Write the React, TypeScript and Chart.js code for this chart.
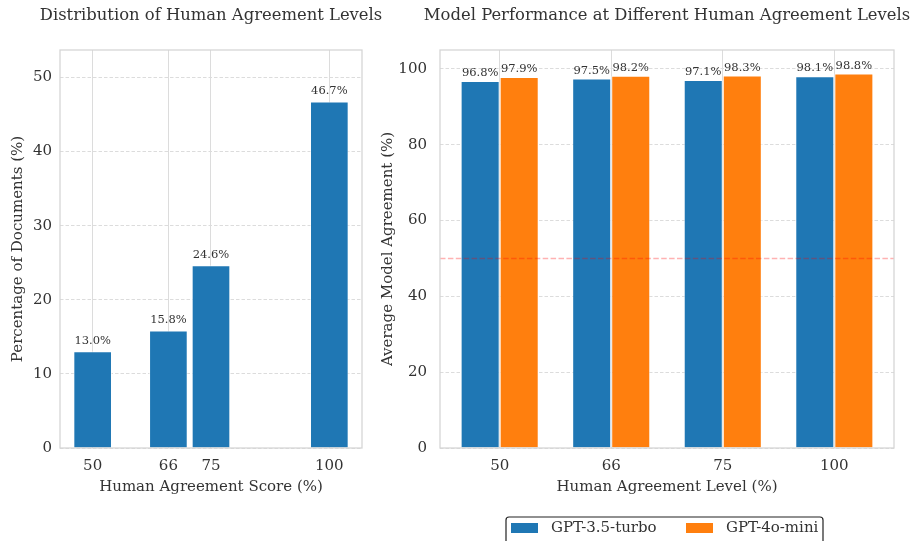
import React, { useEffect, useRef } from "react";
import { Chart, registerables } from "chart.js";

Chart.register(...registerables);

// ---- data ----
const scoreLevels = [50, 66, 75, 100];
const docPercentages = [13.0, 15.8, 24.6, 46.7];
const leftYTicks = [0, 10, 20, 30, 40, 50];

const agreementCategories = ["50", "66", "75", "100"];
const gpt35Values = [96.8, 97.5, 97.1, 98.1];
const gpt4oMiniValues = [97.9, 98.2, 98.3, 98.8];
const rightYTicks = [0, 20, 40, 60, 80, 100];
const seriesNames = ["GPT-3.5-turbo", "GPT-4o-mini"];
const referenceLine = 50;

const leftTitle = "Distribution of Human Agreement Levels";
const rightTitle = "Model Performance at Different Human Agreement Levels";

// ---- styles ----
const BLUE = "#1f77b4";
const ORANGE = "#ff7f0e";
const TEXT = "#333333";
const FAMILY = "'DejaVu Serif', serif";
const GRID = "#dcdcdc";
const FRAME = "#d4d4d4";
const TICK_SIZE = 15;
const LABEL_SIZE = 15;

function framePlugin(title: string, labelOffset: number, extra?: (chart: any) => void) {
  return {
    id: "custom-" + title.length,
    afterDatasetsDraw(chart: any) {
      const ctx = chart.ctx;
      const ca = chart.chartArea;
      if (extra) extra(chart);
      // value labels
      ctx.save();
      ctx.font = `11.5px ${FAMILY}`;
      ctx.fillStyle = TEXT;
      ctx.textAlign = "center";
      ctx.textBaseline = "bottom";
      chart.data.datasets.forEach((ds: any, di: number) => {
        const meta = chart.getDatasetMeta(di);
        meta.data.forEach((el: any, i: number) => {
          const raw = ds.data[i];
          const v = typeof raw === "number" ? raw : raw.y;
          ctx.fillText(v.toFixed(1) + "%", el.x, el.y - labelOffset);
        });
      });
      ctx.restore();
      // frame
      ctx.save();
      ctx.strokeStyle = FRAME;
      ctx.lineWidth = 1.25;
      ctx.strokeRect(ca.left, ca.top, ca.right - ca.left, ca.bottom - ca.top);
      ctx.restore();
      // title
      ctx.save();
      ctx.font = `16.4px ${FAMILY}`;
      ctx.fillStyle = TEXT;
      ctx.textAlign = "center";
      ctx.textBaseline = "middle";
      ctx.fillText(title, (ca.left + ca.right) / 2, 16);
      ctx.restore();
    },
  };
}

function LeftChart() {
  const ref = useRef<HTMLCanvasElement | null>(null);
  useEffect(() => {
    if (!ref.current) return;
    const chart = new Chart(ref.current, {
      type: "bar",
      data: {
        datasets: [
          {
            data: scoreLevels.map((x, i) => ({ x, y: docPercentages[i] })),
            backgroundColor: BLUE,
            borderColor: "rgba(255,255,255,0.6)",
            borderWidth: 1,
            barThickness: 38,
          } as any,
        ],
      },
      options: {
        responsive: false,
        animation: false,
        layout: { padding: { left: 0, right: 48, top: 50, bottom: 41 } },
        plugins: { legend: { display: false }, tooltip: { enabled: false } },
        scales: {
          x: {
            type: "linear",
            offset: false,
            min: 43.1,
            max: 106.9,
            afterBuildTicks: (s: any) => {
              s.ticks = scoreLevels.map((v) => ({ value: v }));
            },
            afterFit: (s: any) => {
              s.height = 52;
            },
            grid: { color: GRID, drawTicks: false, lineWidth: 1, offset: false },
            border: { display: false },
            ticks: { padding: 9, color: TEXT, font: { family: FAMILY, size: TICK_SIZE } },
            title: {
              display: true,
              text: "Human Agreement Score (%)",
              color: TEXT,
              font: { family: FAMILY, size: LABEL_SIZE },
              padding: { top: 0, bottom: 4 },
            },
          },
          y: {
            min: 0,
            max: 53.7,
            afterBuildTicks: (s: any) => {
              s.ticks = leftYTicks.map((v) => ({ value: v }));
            },
            afterFit: (s: any) => {
              s.width = 60;
            },
            grid: { color: GRID, drawTicks: false, lineWidth: 1 },
            border: { display: false, dash: [3.5, 2] },
            ticks: { padding: 8, color: TEXT, font: { family: FAMILY, size: TICK_SIZE } },
            title: {
              display: true,
              text: "Percentage of Documents (%)",
              color: TEXT,
              font: { family: FAMILY, size: LABEL_SIZE },
              padding: { top: 9, bottom: 4 },
            },
          },
        },
      } as any,
      plugins: [framePlugin(leftTitle, 5)],
    });
    return () => chart.destroy();
  }, []);
  return (
    <canvas
      ref={ref}
      width={410}
      height={541}
      style={{ position: "absolute", left: 0, top: 0, width: 410, height: 541 }}
    />
  );
}

function RightChart() {
  const ref = useRef<HTMLCanvasElement | null>(null);
  useEffect(() => {
    if (!ref.current) return;
    const drawExtra = (chart: any) => {
      const ctx = chart.ctx;
      const ca = chart.chartArea;
      const y = chart.scales.y.getPixelForValue(referenceLine);
      ctx.save();
      ctx.strokeStyle = "rgba(255,0,0,0.3)";
      ctx.lineWidth = 1.5;
      ctx.setLineDash([5.5, 2.4]);
      ctx.beginPath();
      ctx.moveTo(ca.left, y);
      ctx.lineTo(ca.right, y);
      ctx.stroke();
      ctx.restore();
    };
    const legendPlugin = {
      id: "custom-legend",
      afterDraw(chart: any) {
        const ctx = chart.ctx;
        const left = 136;
        const top = 517;
        const w = 317;
        const h = 34;
        ctx.save();
        ctx.strokeStyle = "#222222";
        ctx.lineWidth = 1.2;
        ctx.beginPath();
        (ctx as any).roundRect(left, top, w, h, 3);
        ctx.stroke();
        ctx.font = `15px ${FAMILY}`;
        ctx.textBaseline = "middle";
        ctx.textAlign = "left";
        const items = [
          { color: BLUE, text: seriesNames[0], x: 141 },
          { color: ORANGE, text: seriesNames[1], x: 316 },
        ];
        items.forEach((it) => {
          ctx.fillStyle = it.color;
          ctx.fillRect(it.x, 523, 27, 10);
          ctx.fillStyle = TEXT;
          ctx.fillText(it.text, it.x + 40, 528.5);
        });
        ctx.restore();
      },
    };
    const barStyle = {
      borderColor: "rgba(255,255,255,0.6)",
      borderWidth: 1,
      categoryPercentage: 0.7,
      barPercentage: 1.0,
    };
    const chart = new Chart(ref.current, {
      type: "bar",
      data: {
        datasets: [
          {
            label: seriesNames[0],
            data: gpt35Values.map((y, i) => ({ x: i, y })),
            backgroundColor: BLUE,
            ...barStyle,
          } as any,
          {
            label: seriesNames[1],
            data: gpt4oMiniValues.map((y, i) => ({ x: i, y })),
            backgroundColor: ORANGE,
            ...barStyle,
          } as any,
        ],
      },
      options: {
        responsive: false,
        animation: false,
        layout: { padding: { left: 0, right: 19, top: 50, bottom: 41 } },
        plugins: { legend: { display: false }, tooltip: { enabled: false } },
        scales: {
          x: {
            type: "linear",
            offset: false,
            min: -0.535,
            max: agreementCategories.length - 1 + 0.535,
            afterBuildTicks: (s: any) => {
              s.ticks = agreementCategories.map((_, i) => ({ value: i }));
            },
            afterFit: (s: any) => {
              s.height = 52;
            },
            grid: { color: GRID, drawTicks: false, lineWidth: 1, offset: false },
            border: { display: false },
            ticks: {
              padding: 9,
              color: TEXT,
              font: { family: FAMILY, size: TICK_SIZE },
              callback: (v: any) => agreementCategories[Math.round(Number(v))] ?? "",
            },
            title: {
              display: true,
              text: "Human Agreement Level (%)",
              color: TEXT,
              font: { family: FAMILY, size: LABEL_SIZE },
              padding: { top: 0, bottom: 4 },
            },
          },
          y: {
            min: 0,
            max: 105,
            afterBuildTicks: (s: any) => {
              s.ticks = rightYTicks.map((v) => ({ value: v }));
            },
            afterFit: (s: any) => {
              s.width = 70;
            },
            grid: { color: GRID, drawTicks: false, lineWidth: 1 },
            border: { display: false, dash: [3.5, 2] },
            ticks: { padding: 13, color: TEXT, font: { family: FAMILY, size: TICK_SIZE } },
            title: {
              display: true,
              text: "Average Model Agreement (%)",
              color: TEXT,
              font: { family: FAMILY, size: LABEL_SIZE },
              padding: { top: 9, bottom: 4 },
            },
          },
        },
      } as any,
      plugins: [framePlugin(rightTitle, 2, drawExtra), legendPlugin],
    });
    return () => chart.destroy();
  }, []);
  return (
    <canvas
      ref={ref}
      width={543}
      height={541}
      style={{ position: "absolute", left: 370, top: 0, width: 543, height: 541 }}
    />
  );
}

export default function App() {
  return (
    <div
      style={{
        position: "fixed",
        left: 0,
        top: 0,
        width: 913,
        height: 541,
        background: "#ffffff",
        overflow: "hidden",
      }}
    >
      <LeftChart />
      <RightChart />
    </div>
  );
}
